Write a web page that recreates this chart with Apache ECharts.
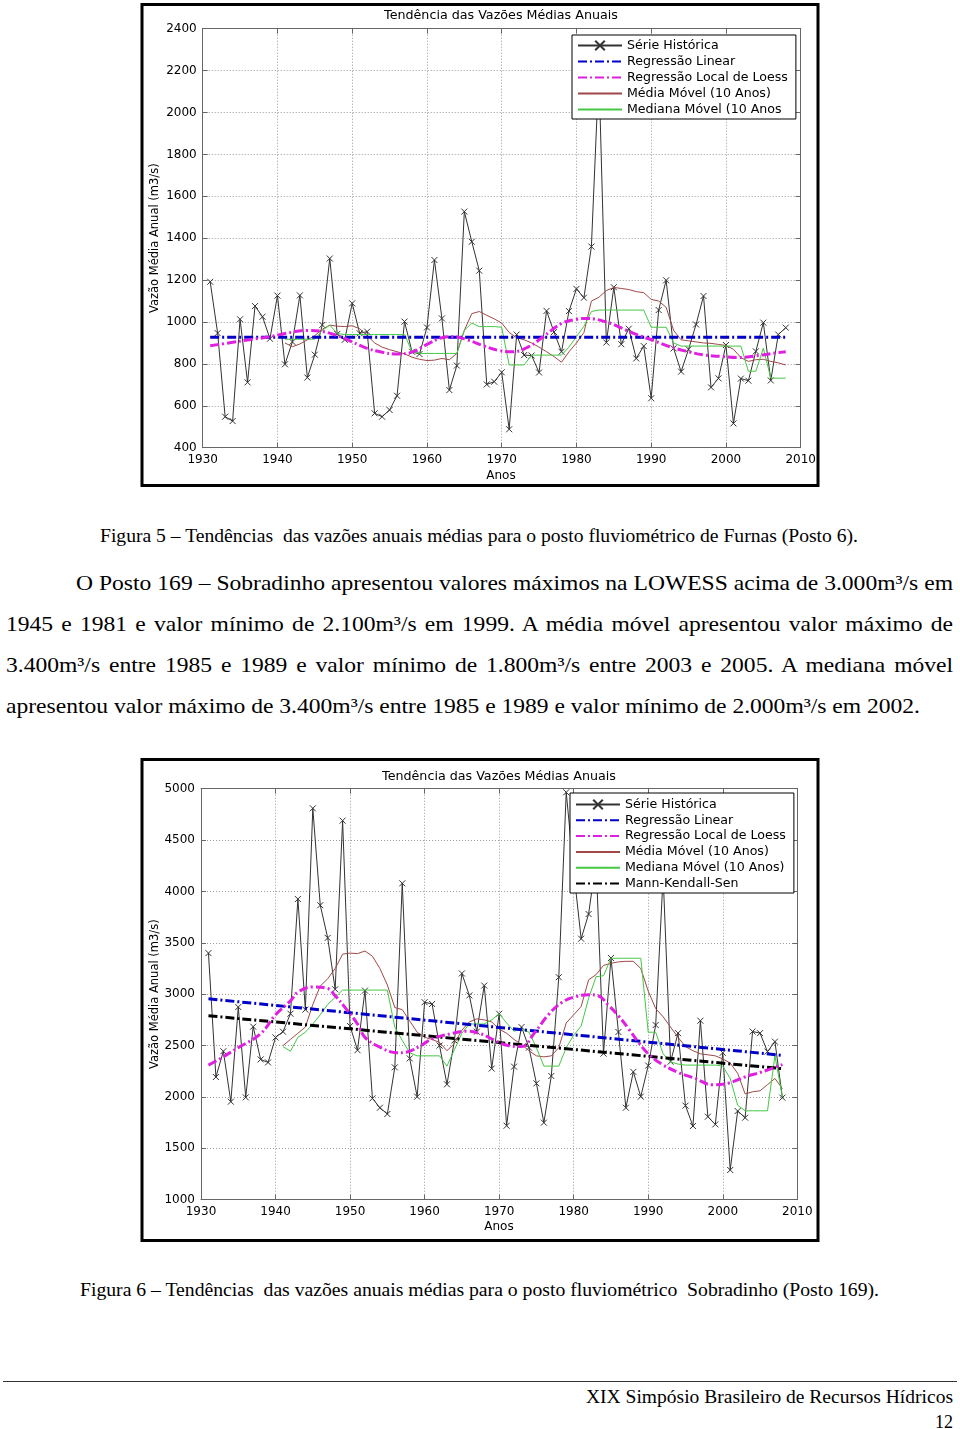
<!DOCTYPE html>
<html><head><meta charset="utf-8">
<script src="https://cdn.jsdelivr.net/npm/echarts@6/dist/echarts.min.js"></script>
<style>
html,body{margin:0;padding:0;background:#fff;}
body{width:960px;height:1429px;position:relative;overflow:hidden;font-family:'Liberation Serif','Times New Roman',serif;color:#000;}
.chart{position:absolute;left:0;width:960px;height:490px;}
.t{position:absolute;white-space:pre;line-height:1;transform-origin:0 50%;}
.rule{position:absolute;left:3px;width:954px;top:1381px;height:0;border-top:1.5px solid #333;}
</style></head><body>
<div id="c1" class="chart" style="top:0"></div>
<div id="c2" class="chart" style="top:755px"></div>

<div class="t" data-mode="scale" data-x="100" data-y="535" data-w="758" style="font-size:19px">Figura 5 – Tendências  das vazões anuais médias para o posto fluviométrico de Furnas (Posto 6).</div>
<div class="t para" data-mode="justify" data-x="76" data-y="584" data-w="877" style="font-size:21.5px">O Posto 169 – Sobradinho apresentou valores máximos na LOWESS acima de 3.000m³/s em</div>
<div class="t para" data-mode="justify" data-x="6" data-y="625" data-w="947" style="font-size:21.5px">1945 e 1981 e valor mínimo de 2.100m³/s em 1999. A média móvel apresentou valor máximo de</div>
<div class="t para" data-mode="justify" data-x="6" data-y="666" data-w="947" style="font-size:21.5px">3.400m³/s entre 1985 e 1989 e valor mínimo de 1.800m³/s entre 2003 e 2005. A mediana móvel</div>
<div class="t para" id="lastline" data-mode="last" data-x="6" data-y="707" data-w="914" style="font-size:21.5px">apresentou valor máximo de 3.400m³/s entre 1985 e 1989 e valor mínimo de 2.000m³/s em 2002.</div>
<div class="t" data-mode="scale" data-x="80" data-y="1289" data-w="799" style="font-size:19px">Figura 6 – Tendências  das vazões anuais médias para o posto fluviométrico  Sobradinho (Posto 169).</div>
<div class="rule"></div>
<div class="t" data-mode="scale" data-x="586" data-y="1396" data-w="367" style="font-size:19px">XIX Simpósio Brasileiro de Recursos Hídricos</div>
<div class="t" data-mode="scale" data-x="935" data-y="1421" data-w="18" style="font-size:19px">12</div>

<script>
// ---------- DATA ----------
const years = [1931,1932,1933,1934,1935,1936,1937,1938,1939,1940,
  1941,1942,1943,1944,1945,1946,1947,1948,1949,1950,
  1951,1952,1953,1954,1955,1956,1957,1958,1959,1960,
  1961,1962,1963,1964,1965,1966,1967,1968,1969,1970,
  1971,1972,1973,1974,1975,1976,1977,1978,1979,1980,
  1981,1982,1983,1984,1985,1986,1987,1988,1989,1990,
  1991,1992,1993,1994,1995,1996,1997,1998,1999,2000,
  2001,2002,2003,2004,2005,2006,2007,2008];
const movingYears = [1941,1942,1943,1944,1945,1946,1947,1948,1949,1950,
  1951,1952,1953,1954,1955,1956,1957,1958,1959,1960,
  1961,1962,1963,1964,1965,1966,1967,1968,1969,1970,
  1971,1972,1973,1974,1975,1976,1977,1978,1979,1980,
  1981,1982,1983,1984,1985,1986,1987,1988,1989,1990,
  1991,1992,1993,1994,1995,1996,1997,1998,1999,2000,
  2001,2002,2003,2004,2005,2006,2007,2008];
const trendYears = [1931, 2008];

// Figura 5 - Furnas (Posto 6)
const furnasSerie = [1192,947,548,527,1013,712,1076,1025,920,1126,
  798,905,1127,735,844,986,1303,943,915,1089,
  946,954,564,548,580,648,1002,858,847,974,
  1296,1017,675,792,1527,1383,1245,702,715,760,
  488,940,842,840,759,1053,952,858,1052,1158,
  1116,1360,2200,902,1166,894,968,826,885,636,
  1057,1199,874,763,870,988,1124,688,731,890,
  516,730,720,860,997,721,940,973];
const furnasReg = [927, 927];
const furnasLoessYears = [1931,1934,1936,1939,1941,1944,1946,1948,1950,1952,1954,1956,1958,1960,1962,1963.5,1965.5,1967.5,1969.5,1971.5,1973.5,1975.5,1978,1980,1981.5,1984,1986,1988,1990.5,1992.5,1995,1997,1999.5,2001.5,2004,2006,2008];
const furnasLoess = [887,903,914,930,945,960,955,935,905,874,856,847,856,893,925,930,914,887,865,858,880,928,993,1013,1017,1000,972,941,909,882,858,843,835,830,838,849,858];
const furnasMedia = [900,882,895,915,935,965,985,980,978,982,
  968,935,900,880,868,858,848,832,822,816,
  818,826,820,850,960,1040,1050,1032,1015,995,
  950,925,915,900,880,858,835,808,858,900,
  950,1100,1118,1150,1165,1160,1155,1145,1140,1108,
  1100,1070,960,915,910,905,900,898,893,888,
  870,830,812,820,822,812,805,795];
const furnasMediana = [918,918,918,918,918,960,985,945,940,940,
  940,940,940,940,940,940,940,858,850,850,
  850,850,850,850,960,995,978,978,978,975,
  795,795,795,842,842,842,842,842,880,930,
  980,1050,1057,1057,1057,1057,1057,1057,1057,975,
  975,975,900,885,885,885,885,885,885,885,
  885,885,765,765,875,732,732,732];

// Figura 6 - Sobradinho (Posto 169)
const sobSerie = [3400,2194,2445,1954,2875,1996,2684,2365,2336,2579,
  2635,2810,3926,2850,4809,3866,3548,3048,4689,2690,
  2455,3035,1986,1895,1834,2288,4079,2375,2003,2922,
  2905,2500,2123,2550,3202,2988,2635,3084,2276,2810,
  1720,2295,2680,2480,2132,1750,2204,3165,4965,4200,
  3540,3780,4300,2422,3352,2632,1895,2244,2003,2305,
  2700,4150,2343,2621,1915,1717,2742,1808,1733,2430,
  1289,1863,1798,2637,2621,2441,2538,1993];
const sobReg = [2955, 2405];
const sobMK = [2790, 2275];
const sobLoessYears = [1931,1932.5,1935,1938,1940,1942,1943,1945,1947,1948,1949.5,1951,1952,1954,1956.3,1957.5,1959.5,1961,1963.5,1965.7,1967.5,1969.3,1971.2,1973,1974.8,1976.6,1978.4,1980.2,1982,1983.3,1984.7,1986,1987.4,1988.7,1990,1991.8,1994,1996.3,1998.6,2000.8,2003,2005.3,2008];
const sobLoess = [2310,2370,2480,2615,2800,2935,3020,3070,3055,2985,2855,2710,2580,2485,2430,2435,2500,2565,2615,2640,2615,2555,2500,2490,2630,2800,2920,2975,2995,2985,2890,2790,2660,2530,2420,2320,2240,2180,2118,2135,2195,2245,2315];
const sobMedia = [2500,2560,2620,2680,2900,3080,3150,3250,3390,3400,
  3395,3420,3370,3250,3090,2870,2850,2740,2630,2580,
  2560,2530,2450,2520,2650,2730,2760,2750,2730,2660,
  2620,2560,2510,2450,2400,2390,2400,2480,2720,2800,
  2880,3140,3190,3280,3300,3315,3320,3320,3250,3030,
  2860,2780,2680,2580,2490,2450,2420,2410,2400,2370,
  2330,2230,2030,2050,2060,2120,2180,2080];
const sobMediana = [2490,2445,2580,2630,2710,2800,2900,2970,3040,3040,
  3040,3040,3040,3040,3040,2680,2550,2430,2400,2400,
  2400,2400,2300,2460,2620,2710,2710,2710,2750,2810,
  2720,2640,2660,2630,2480,2300,2300,2300,2480,2600,
  2690,2960,3170,3180,3350,3350,3350,3350,3350,2630,
  2630,2420,2340,2320,2310,2310,2310,2310,2310,2300,
  2180,1920,1865,1865,1865,1865,2400,2000];

const titleText = 'Tendência das Vazões Médias Anuais';
const yName = 'Vazão Média Anual (m3/s)';
const xName = 'Anos';
const legend1 = ['Série Histórica','Regressão Linear','Regressão Local de Loess','Média Móvel (10 Anos)','Mediana Móvel (10 Anos'];
const legend2 = ['Série Histórica','Regressão Linear','Regressão Local de Loess','Média Móvel (10 Anos)','Mediana Móvel (10 Anos)','Mann-Kendall-Sen'];

// ---------- RENDER ----------
const F = 'DejaVu Sans';
const pts = (xs, ys) => xs.map((x, i) => [x, ys[i]]);
const DASHDOT = [9, 3, 2, 3];
const CLEAR = 'rgba(0,0,0,0)';

function makeOption(p) {
  const names = p.legendNames;
  const series = [
    {name: names[0], type: 'line', data: pts(years, p.serie), symbol: 'path://M0,0L10,10M10,0L0,10',
     symbolSize: 6, showSymbol: true, lineStyle: {color: '#333', width: 1},
     itemStyle: {color: '#333', borderColor: '#333', borderWidth: 1}, z: 2},
    {name: names[1], type: 'line', data: pts(trendYears, p.reg), symbol: 'none',
     lineStyle: {color: '#0000c8', width: 3, type: DASHDOT}, itemStyle: {color: CLEAR}, z: 4},
    {name: names[2], type: 'line', data: pts(p.loessYears, p.loess), symbol: 'none', smooth: 0.4,
     lineStyle: {color: '#e020e0', width: 3, type: DASHDOT}, itemStyle: {color: CLEAR}, z: 5},
    {name: names[3], type: 'line', data: pts(movingYears, p.media), symbol: 'none',
     lineStyle: {color: '#a04848', width: 1}, itemStyle: {color: CLEAR}, z: 3},
    {name: names[4], type: 'line', data: pts(movingYears, p.mediana), symbol: 'none',
     lineStyle: {color: '#44c844', width: 1}, itemStyle: {color: CLEAR}, z: 3}
  ];
  if (p.mk) {
    series.push({name: names[5], type: 'line', data: pts(trendYears, p.mk), symbol: 'none',
      lineStyle: {color: '#000', width: 3, type: DASHDOT}, itemStyle: {color: CLEAR}, z: 4});
  }
  const legendData = names.map((n, i) => i === 0 ? {name: n} :
    {name: n, itemStyle: {color: CLEAR, borderColor: CLEAR, borderWidth: 0, opacity: 0}});
  const axisCommon = {
    axisLine: {show: true, lineStyle: {color: '#666', width: 1}},
    axisTick: {show: true, inside: true, length: 5, lineStyle: {color: '#666'}},
  };
  const lbl = {fontFamily: F, fontSize: 12, color: '#000', margin: 6, formatter: v => String(v)};
  const g = p.grid;
  return {
    animation: false,
    backgroundColor: '#fff',
    grid: {left: g.left, top: g.top, width: g.width, height: g.height, show: false},
    xAxis: [
      Object.assign({type: 'value', min: 1930, max: 2010, interval: 10, position: 'bottom',
        axisLabel: lbl,
        splitLine: {show: true, lineStyle: {color: '#9a9a9a', type: [1, 2], width: 1}}}, axisCommon),
      Object.assign({type: 'value', min: 1930, max: 2010, interval: 10, position: 'top',
        axisLabel: {show: false}, splitLine: {show: false}}, axisCommon)
    ],
    yAxis: [
      Object.assign({type: 'value', min: p.yMin, max: p.yMax, interval: p.yInt, position: 'left',
        axisLabel: lbl,
        splitLine: {show: true, lineStyle: {color: '#9a9a9a', type: [1, 2], width: 1}}}, axisCommon),
      Object.assign({type: 'value', min: p.yMin, max: p.yMax, interval: p.yInt, position: 'right',
        axisLabel: {show: false}, splitLine: {show: false}}, axisCommon)
    ],
    legend: {
      data: legendData, orient: 'vertical', left: p.legend.left, top: p.legend.top,
      backgroundColor: '#fff', borderColor: '#000', borderWidth: 1,
      padding: p.legend.padding, itemGap: p.legend.gap, itemWidth: 44, itemHeight: 12,
      textStyle: {fontFamily: F, fontSize: 12.6, color: '#000', lineHeight: 12},
      selectedMode: false
    },
    graphic: [
      {type: 'rect', shape: {x: 142, y: 4.5, width: 676, height: 481},
       style: {fill: 'none', stroke: '#000', lineWidth: 3}, z: 100},
      {type: 'text', x: p.titleX, y: p.titleY,
       style: {text: titleText, font: '12.7px "DejaVu Sans"', fill: '#000', align: 'center', verticalAlign: 'middle'}},
      {type: 'text', x: 155, y: g.top + g.height / 2, rotation: Math.PI / 2,
       style: {text: yName, font: '11.5px "DejaVu Sans"', fill: '#000', align: 'center', verticalAlign: 'middle'}},
      {type: 'text', x: p.titleX, y: p.xNameY,
       style: {text: xName, font: '12px "DejaVu Sans"', fill: '#000', align: 'center', verticalAlign: 'middle'}}
    ],
    series: series
  };
}

const c1 = echarts.init(document.getElementById('c1'));
c1.setOption(makeOption({
  legendNames: legend1, serie: furnasSerie, reg: furnasReg, loessYears: furnasLoessYears, loess: furnasLoess,
  media: furnasMedia, mediana: furnasMediana, yMin: 400, yMax: 2400, yInt: 200,
  grid: {left: 202.7, top: 28.7, width: 598, height: 419},
  legend: {left: 572, top: 35, gap: 3, padding: [4, 8, 3, 5]}, titleX: 501, titleY: 16, xNameY: 476
}));

const c2 = echarts.init(document.getElementById('c2'));
c2.setOption(makeOption({
  legendNames: legend2, serie: sobSerie, reg: sobReg, mk: sobMK, loessYears: sobLoessYears, loess: sobLoess,
  media: sobMedia, mediana: sobMediana, yMin: 1000, yMax: 5000, yInt: 500,
  grid: {left: 201, top: 33.7, width: 596.3, height: 411},
  legend: {left: 570, top: 38, gap: 2.8, padding: [5, 8, 3, 5]}, titleX: 499, titleY: 21.5, xNameY: 472
}));

// ---------- TEXT PLACEMENT ----------
const last = document.getElementById('lastline');
const paraScale = (+last.dataset.w) / last.getBoundingClientRect().width;
document.querySelectorAll('.t').forEach(el => {
  const fs = parseFloat(el.style.fontSize);
  el.style.top = (+el.dataset.y - fs / 2) + 'px';
  el.style.left = el.dataset.x + 'px';
  const w = +el.dataset.w;
  const nat = el.getBoundingClientRect().width;
  const mode = el.dataset.mode;
  if (mode === 'justify') {
    const spaces = (el.textContent.match(/ /g) || []).length;
    el.style.wordSpacing = ((w / paraScale - nat) / spaces) + 'px';
    el.style.transform = 'scaleX(' + paraScale + ')';
  } else if (mode === 'last') {
    el.style.transform = 'scaleX(' + paraScale + ')';
  } else {
    el.style.transform = 'scaleX(' + (w / nat) + ')';
  }
});
</script>
</body></html>
